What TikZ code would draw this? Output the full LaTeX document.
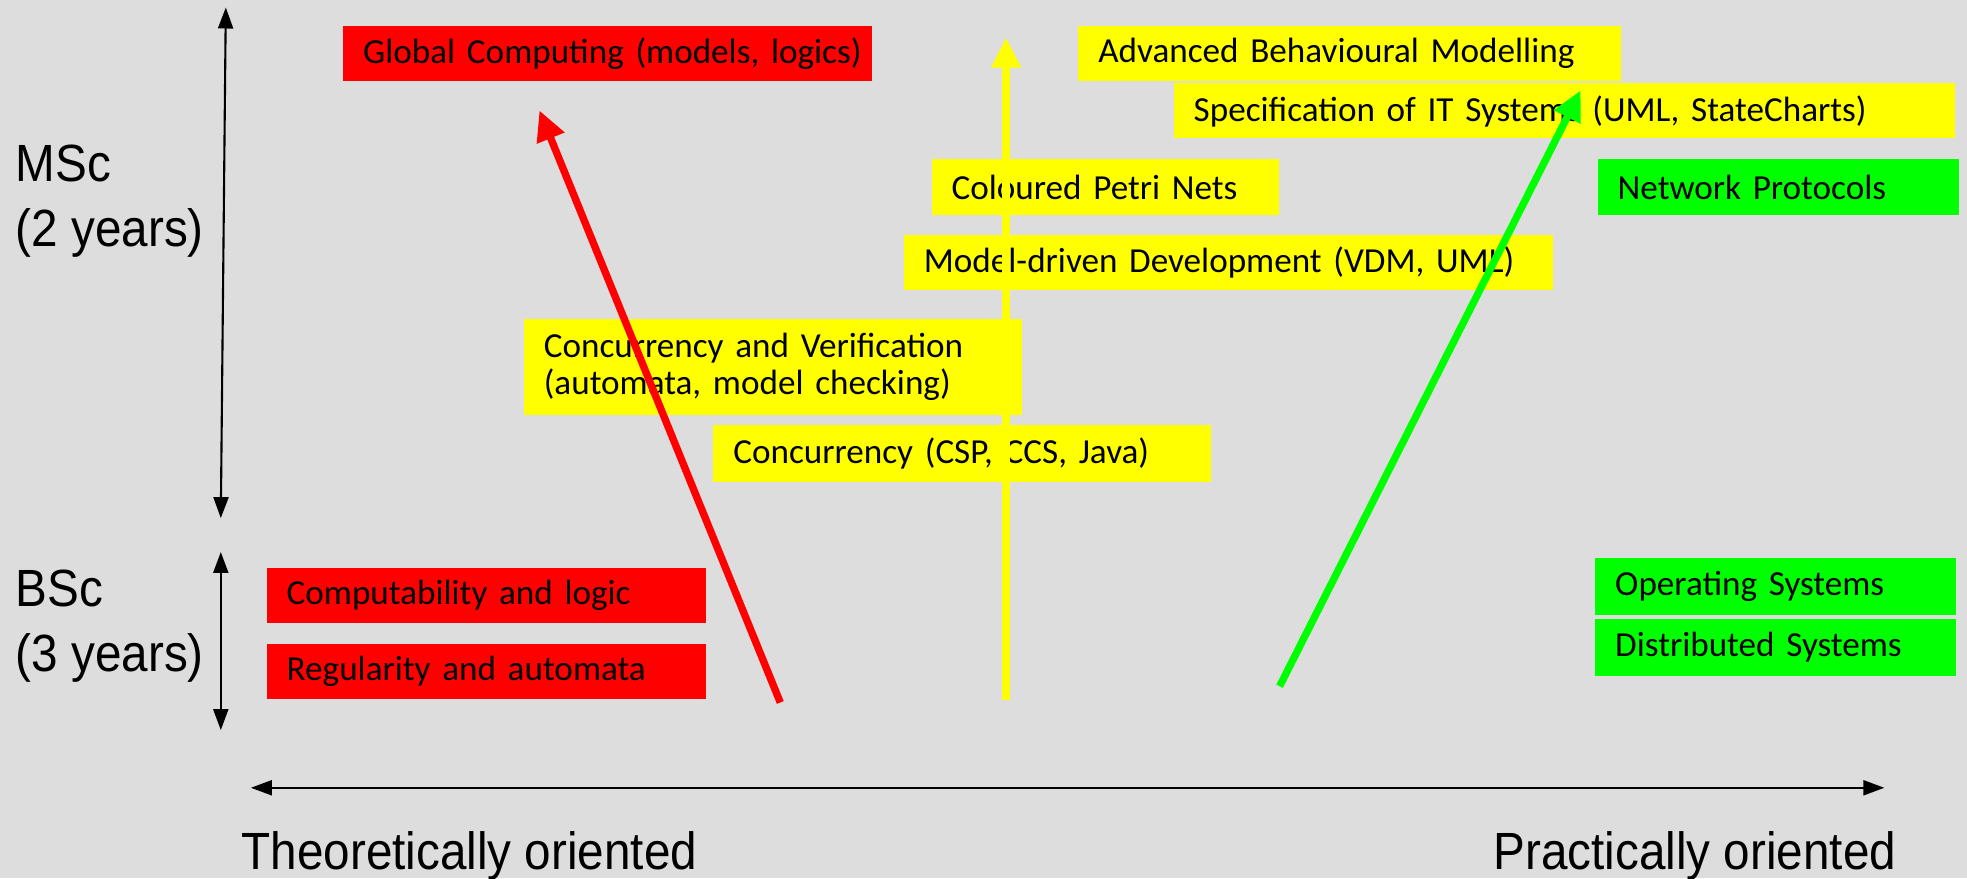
\documentclass[tikz,border=0pt]{standalone}
\usepackage{fontspec}
\setmainfont{Carlito}
\newfontfamily\axisfont{Liberation Sans}[FakeStretch=0.91]
\usetikzlibrary{arrows.meta}
\definecolor{bggrey}{RGB}{221,221,221}
\definecolor{boxred}{RGB}{255,0,0}
\definecolor{boxyellow}{RGB}{255,255,0}
\definecolor{boxgreen}{RGB}{0,255,0}

\begin{document}
\begin{tikzpicture}[
  box/.style={anchor=north west, minimum height=0.55cm, inner xsep=0.2cm, inner ysep=0.05cm, align=left, font=\fontsize{10}{10.7}\selectfont},
  redbox/.style={box, fill=boxred},
  yellowbox/.style={box, fill=boxyellow},
  greenbox/.style={box, fill=boxgreen},
  axislabel/.style={inner sep=0pt, align=left, font=\axisfont\fontsize{14.9}{18.5}\selectfont},
  trend/.style={line width=2.1pt, -{Triangle[length=0.3cm, width=0.28cm]}},
  yeararrow/.style={line width=0.6pt, {Triangle[length=0.21cm, width=0.15cm]}-{Triangle[length=0.21cm, width=0.15cm]}}
]
  \useasboundingbox[fill=bggrey] (0,0) rectangle (19.67,8.78);
  % Nodes
  \node (global) [redbox, text width=4.89cm] at (3.425, 8.529) {\mbox{Global Computing (models, logics)}};
  \node (compute) [redbox, text width=3.99cm] at (2.66, 3.11) {Computability and logic};
  \node (regular) [redbox, text width=3.99cm] at (2.66, 2.344) {Regularity and automata};
  \node (advanced) [yellowbox, text width=5.03cm] at (10.776, 8.529) {Advanced Behavioural Modelling};
  \node (spec) [yellowbox, text width=7.41cm] at (11.73, 7.952) {Specification of IT Systems (UML, StateCharts)};
  \node (petri) [yellowbox, text width=3.07cm, minimum height=0.564cm] at (9.308, 7.199) {Coloured Petri Nets};
  \node (modeldriven) [yellowbox, text width=6.09cm] at (9.032, 6.434) {Model-driven Development (VDM, UML)};
  \node (concver) [yellowbox, text width=4.58cm, minimum height=0.954cm] at (5.231, 5.594) {Concurrency and Verification\\(automata, model checking)};
  \node (concur) [yellowbox, text width=4.58cm, minimum height=0.577cm] at (7.126, 4.54) {Concurrency (CSP, CCS, Java)};
  \node (netproto) [greenbox, text width=3.21cm, minimum height=0.564cm] at (15.97, 7.199) {Network Protocols};
  \node (opsys) [greenbox, text width=3.21cm, minimum height=0.577cm] at (15.945, 3.21) {Operating Systems};
  \node (distsys) [greenbox, text width=3.21cm, minimum height=0.564cm] at (15.945, 2.595) {Distributed Systems};
  \node (msc) [axislabel, anchor=west] at (0.151, 6.765) {MSc\\(2 years)};
  \node (bsc) [axislabel, anchor=west] at (0.151, 2.52) {BSc\\(3 years)};
  \node (theo) [axislabel, anchor=base west] at (2.409, 0.086) {Theoretically oriented};
  \node (prac) [axislabel, anchor=base east] at (18.968, 0.086) {Practically oriented};
  \coordinate (redfrom) at (7.803, 1.755);
  \coordinate (redto) at (5.394, 7.676);
  \coordinate (yellowfrom) at (10.061, 1.78);
  \coordinate (yellowto) at (10.061, 8.404);
  \coordinate (greenfrom) at (12.796, 1.918);
  \coordinate (greento) at (15.807, 7.877);
  \coordinate (msctop) at (2.258, 8.705);
  \coordinate (mscbot) at (2.208, 3.599);
  \coordinate (bsctop) at (2.208, 3.26);
  \coordinate (bscbot) at (2.208, 1.479);
  \coordinate (theoend) at (2.509, 0.902);
  \coordinate (pracend) at (18.843, 0.902);
  % Arrow
  \draw[trend, draw=boxred, fill=boxred] (redfrom) -- (redto);
  \draw[trend, draw=boxyellow, fill=boxyellow] (yellowfrom) -- (yellowto);
  \draw[trend, draw=boxgreen, fill=boxgreen] (greenfrom) -- (greento);
  \draw[yeararrow] (msctop) -- (mscbot);
  \draw[yeararrow] (bsctop) -- (bscbot);
  \draw[yeararrow] (theoend) -- (pracend);
\end{tikzpicture}
\end{document}
